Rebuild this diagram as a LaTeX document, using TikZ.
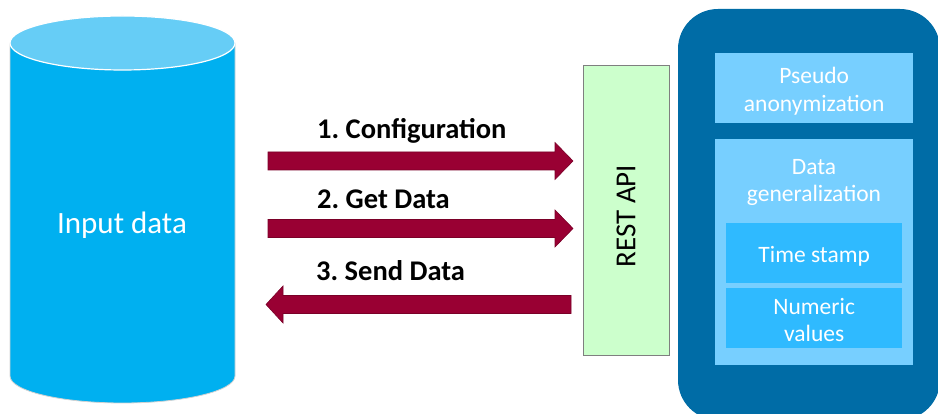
\documentclass[tikz,border=0pt]{standalone}
\usepackage{fontspec}
\setmainfont{Carlito}
\frenchspacing
\definecolor{cylbody}{HTML}{00B0F0}
\definecolor{cyltop}{HTML}{66CDF6}
\definecolor{flowred}{HTML}{990033}
\definecolor{flowedge}{HTML}{7A0028}
\definecolor{apifill}{HTML}{CCFFCC}
\definecolor{apiedge}{HTML}{7F7F7F}
\definecolor{panelblue}{HTML}{006CA6}
\definecolor{lightbox}{HTML}{77CFFF}
\definecolor{midbox}{HTML}{2FBAFF}
\tikzset{
  flowarrow/.style={fill=flowred, draw=flowedge, line width=0.6pt, line join=miter},
  flowlabel/.style={anchor=west, inner sep=0pt, font=\fontsize{28.5}{31}\selectfont\bfseries, text=black},
  panelbox/.style={fill=lightbox, draw=none, inner sep=0pt, anchor=north west},
  subbox/.style={fill=midbox, draw=none, inner sep=0pt, anchor=north west},
  boxtext/.style={text=white, align=center, inner sep=0pt, font=\fontsize{23.5}{27.5}\selectfont}
}
\begin{document}
\begin{tikzpicture}[x=1pt, y=1pt]
\useasboundingbox (0,0) rectangle (938,414);
\clip (0,0) rectangle (938,414);

% database cylinder
\path[fill=cylbody, draw=gray!35, line width=0.8pt]
  (10,371) -- (10,38) arc[start angle=180, end angle=360, x radius=112.5pt, y radius=27pt]
  -- (235,371) -- cycle;
\path[fill=cyltop, draw=white, line width=1.2pt]
  (122.5,371) ellipse [x radius=112.5pt, y radius=27pt];
\node[text=white, font=\fontsize{31}{34}\selectfont, inner sep=0pt] (input) at (122,189) {Input data};

% REST API gateway
\node[draw=apiedge, fill=apifill, line width=1pt, minimum width=86pt, minimum height=290pt,
      inner sep=0pt] (api) at (626,203) {};
\node[rotate=90, font=\fontsize{29}{33}\selectfont, inner sep=0pt] (apitext) at ([shift={(0,-5)}]api.center) {REST API};

% block arrows between the store and the API
\coordinate (a1) at (268,253);
\coordinate (a2) at (268,185.5);
\coordinate (a3) at (571,109.5);
\path[flowarrow] (a1) ++(0,9) -- ++(287,0) -- ++(0,9.5) -- ++(18,-18.5) -- ++(-18,-18.5)
  -- ++(0,9.5) -- ++(-287,0) -- cycle;
\path[flowarrow] (a2) ++(0,9) -- ++(287,0) -- ++(0,9.5) -- ++(18,-18.5) -- ++(-18,-18.5)
  -- ++(0,9.5) -- ++(-287,0) -- cycle;
\path[flowarrow] (a3) ++(0,9) -- ++(-288,0) -- ++(0,9.5) -- ++(-17,-18.5) -- ++(17,-18.5)
  -- ++(0,9.5) -- ++(288,0) -- cycle;
\node[flowlabel] (l1) at (317,283) {1. Configuration};
\node[flowlabel] (l2) at (317,215) {2. Get Data};
\node[flowlabel] (l3) at (316,143) {3. Send Data};

% processing panel
\path[fill=panelblue, rounded corners=40pt] (678,-6) rectangle (940,405);
\node[panelbox, minimum width=198pt, minimum height=70pt] (pseudo) at (715,361) {};
\node[boxtext] (pseudotext) at ([shift={(0,-3)}]pseudo.center) {Pseudo\\anonymization};
\node[panelbox, minimum width=198pt, minimum height=226pt] (dgen) at (715,275) {};
\node[boxtext] (dgentext) at (814,231.5) {Data\\generalization};
\node[subbox, minimum width=176pt, minimum height=60pt] (tstamp) at (726,191) {};
\node[boxtext] (tstamptext) at ([shift={(0,-3)}]tstamp.center) {Time stamp};
\node[subbox, minimum width=176pt, minimum height=60pt] (numeric) at (726,126) {};
\node[boxtext] (numerictext) at ([shift={(0,-2)}]numeric.center) {Numeric\\values};
\end{tikzpicture}
\end{document}
